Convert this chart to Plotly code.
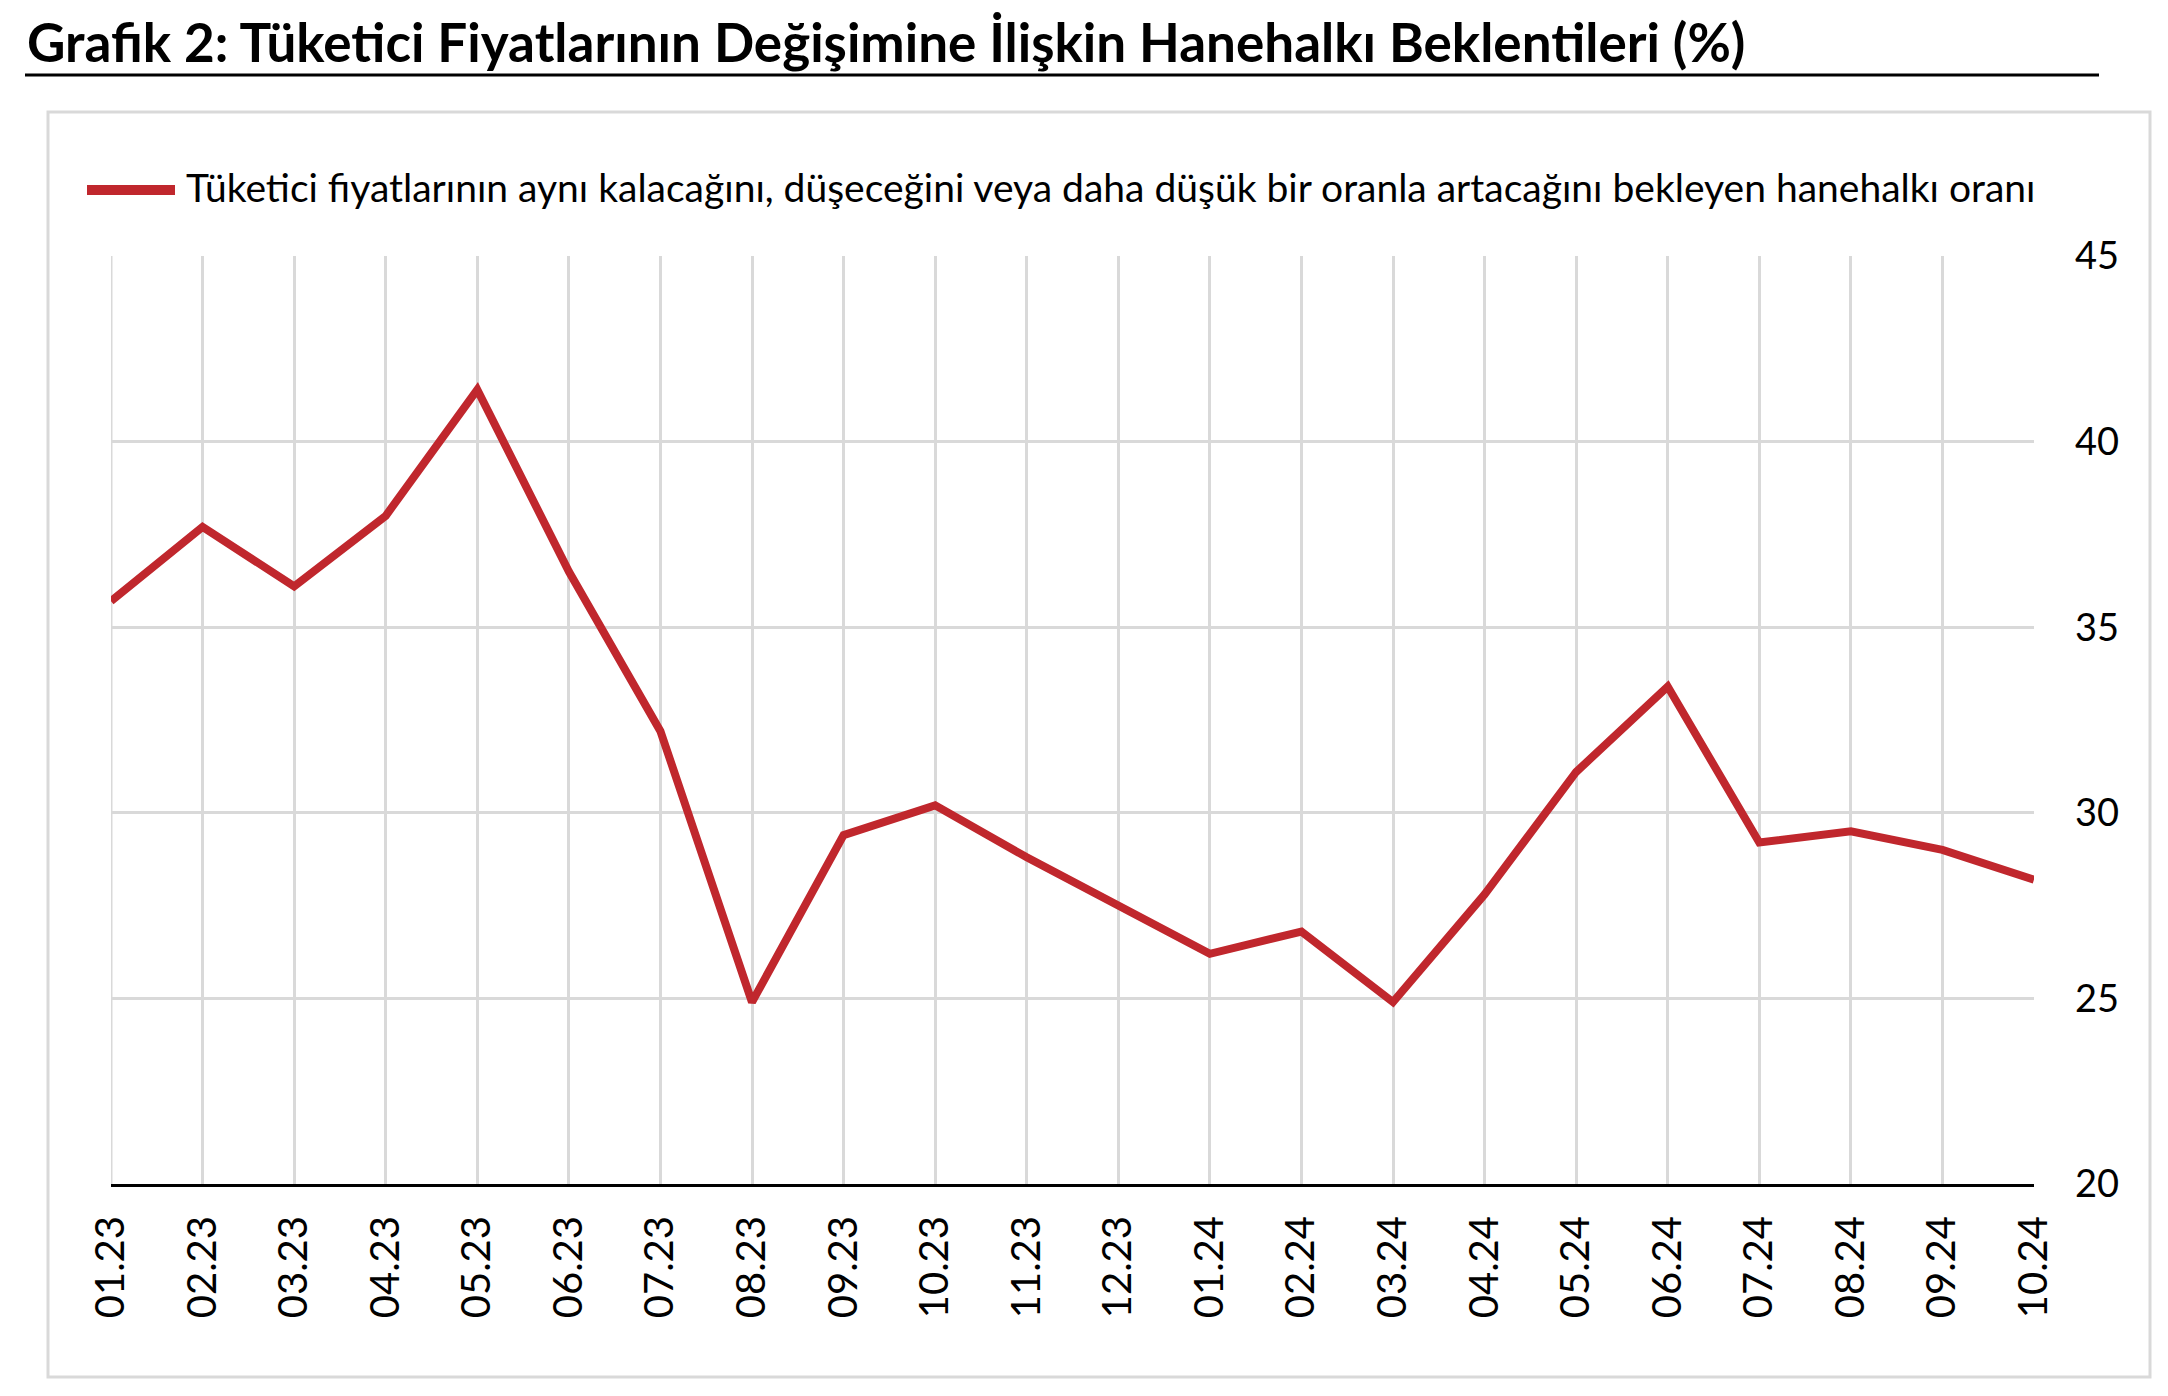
import plotly.graph_objects as go

months = ["01.23", "02.23", "03.23", "04.23", "05.23", "06.23", "07.23", "08.23",
          "09.23", "10.23", "11.23", "12.23", "01.24", "02.24", "03.24", "04.24",
          "05.24", "06.24", "07.24", "08.24", "09.24", "10.24"]
values = [35.7, 37.7, 36.1, 38.0, 41.4, 36.5, 32.2, 24.9, 29.4, 30.2, 28.8, 27.5,
          26.2, 26.8, 24.9, 27.8, 31.1, 33.4, 29.2, 29.5, 29.0, 28.2]
y_ticks = [20, 25, 30, 35, 40, 45]
series_name = ("Tüketici fiyatlarının aynı kalacağını, düşeceğini veya daha düşük "
               "bir oranla artacağını bekleyen hanehalkı oranı")
title_text = "Grafik 2: Tüketici Fiyatlarının Değişimine İlişkin Hanehalkı Beklentileri (%)"

W, H = 2168, 1396
L, R, T, B = 111, 2034, 256, 1184
LINE_COLOR = "#C0272D"
GRID = "#D9D9D9"
FONT = "Lato"

xpos = list(range(1, len(months) + 1))


def px(x):
    return (x - L) / (R - L)


def py(y):
    return (B - y) / (B - T)


fig = go.Figure()
fig.add_trace(go.Scatter(
    x=xpos, y=values, mode="lines",
    line=dict(color=LINE_COLOR, width=8), name=series_name, showlegend=False,
))

fig.update_layout(
    width=W, height=H,
    margin=dict(l=L, r=W - R, t=T, b=H - B, pad=0, autoexpand=False),
    paper_bgcolor="white", plot_bgcolor="white",
    font=dict(family=FONT, color="black"),
    xaxis=dict(
        range=[xpos[0], xpos[-1]], tickvals=xpos, ticktext=months,
        tickangle=-90, showgrid=True, gridcolor=GRID, gridwidth=3,
        showline=True, linecolor="black", linewidth=3, zeroline=False,
        ticks="", ticklabelstandoff=13, tickfont=dict(family=FONT, size=40, color="black"),
    ),
    yaxis=dict(
        range=[20, 45], tickvals=y_ticks, side="right", showgrid=True,
        gridcolor=GRID, gridwidth=3, showline=False, zeroline=False, ticks="",
        ticklabelstandoff=40, tickfont=dict(family=FONT, size=38, color="black"),
    ),
    shapes=[
        dict(type="rect", xref="paper", yref="paper", x0=px(48), x1=px(2150),
             y0=py(1377), y1=py(112), line=dict(color=GRID, width=3), layer="below"),
        dict(type="line", xref="x", yref="paper", x0=xpos[0], x1=xpos[0],
             y0=0, y1=1, line=dict(color=GRID, width=3), layer="below"),
        dict(type="line", xref="paper", yref="paper", x0=px(25), x1=px(2099),
             y0=py(75), y1=py(75), line=dict(color="black", width=3)),
        dict(type="line", xref="paper", yref="paper", x0=px(87), x1=px(175),
             y0=py(190), y1=py(190), line=dict(color=LINE_COLOR, width=10)),
    ],
    annotations=[
        dict(text="<b>" + title_text + "</b>", xref="paper", yref="paper",
             x=px(25), y=py(42), xanchor="left", yanchor="middle", showarrow=False,
             font=dict(family=FONT, size=53, color="black")),
        dict(text=series_name, xref="paper", yref="paper",
             x=px(184), y=py(187), xanchor="left", yanchor="middle", showarrow=False,
             font=dict(family=FONT, size=39, color="black")),
    ],
)

fig.write_html("out.html")
